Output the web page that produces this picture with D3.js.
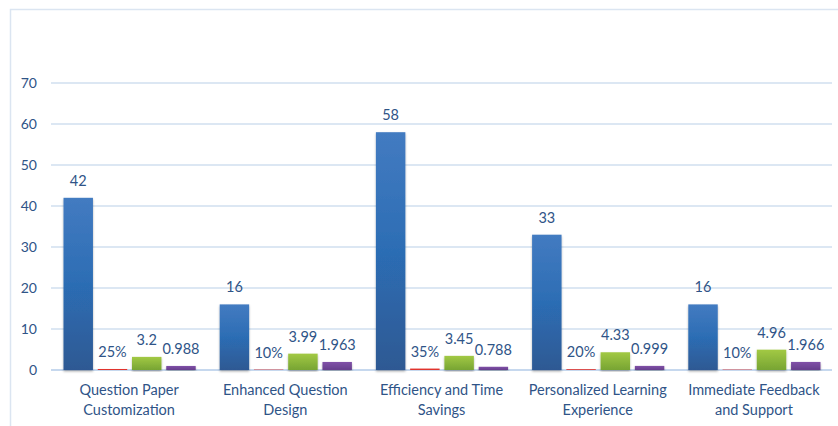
<!DOCTYPE html>
<html><head><meta charset="utf-8">
<script src="https://cdn.jsdelivr.net/npm/d3@7"></script>
<style>
html,body{margin:0;padding:0;background:#fff;}
svg{display:block;}
text{font-family:Lato,"Open Sans",sans-serif;}
</style></head>
<body>
<svg id="c" width="838" height="426"></svg>
<script>
const categories = [["Question Paper","Customization"],["Enhanced Question","Design"],["Efficiency and Time","Savings"],["Personalized Learning","Experience"],["Immediate Feedback","and Support"]];
const seriesA = [42, 16, 58, 33, 16];
const seriesB = [0.25, 0.10, 0.35, 0.20, 0.10];
const seriesBLabels = ["25%", "10%", "35%", "20%", "10%"];
const seriesC = [3.2, 3.99, 3.45, 4.33, 4.96];
const seriesD = [0.988, 1.963, 0.788, 0.999, 1.966];
const seriesDLabels = ["0.988", "1.963", "0.788", "0.999", "1.966"];
const yTicks = [0, 10, 20, 30, 40, 50, 60, 70];

const svg = d3.select("#c");
const W = 838, H = 426;
const m = {left: 51, right: 6, top: 83, bottom: 56};
const textColor = "#2f5487";

// border
svg.append("path").attr("d", `M10.5,${H} L10.5,9.5 L${W},9.5`).attr("fill","none").attr("stroke","#dbe5f1").attr("stroke-width",1.5);

const y = d3.scaleLinear().domain([0,70]).range([H - m.bottom, m.top]);
const names = categories.map(c => c.join(" "));
const x0 = d3.scaleBand().domain(names).range([m.left, W - m.right]).padding(0);
const keys = ["a","b","c","d"];
const x1 = d3.scaleBand().domain(keys).range([12.5, x0.bandwidth() - 11.5]).paddingInner(0.14);

const defs = svg.append("defs");
function grad(id, stops){
  const g = defs.append("linearGradient").attr("id", id).attr("x1",0).attr("y1",0).attr("x2",0).attr("y2",1);
  stops.forEach(s => g.append("stop").attr("offset", s[0]).attr("stop-color", s[1]));
}
grad("gA", [[0,"#437bc1"],[0.5,"#2c6db4"],[1,"#2f5993"]]);
grad("gC", [[0,"#a2c944"],[1,"#77a433"]]);
grad("gD", [[0,"#8051a8"],[1,"#663e8c"]]);
const f = defs.append("filter").attr("id","sh").attr("x","-20%").attr("y","-5%").attr("width","140%").attr("height","115%");
f.append("feDropShadow").attr("dx",0).attr("dy",1.5).attr("stdDeviation",1.2).attr("flood-color","#000").attr("flood-opacity",0.3);

// gridlines
const grid = svg.append("g");
grid.selectAll("line").data(yTicks).join("line")
  .attr("x1", m.left).attr("x2", W - m.right)
  .attr("y1", d => y(d)).attr("y2", d => y(d))
  .attr("stroke", d => d === 0 ? "#c6d8ee" : "#dce7f3").attr("stroke-width", 2);

// y axis labels
const yAxis = d3.axisLeft(y).tickValues(yTicks).tickSize(0).tickPadding(0);
const ya = svg.append("g").attr("transform", `translate(37,0)`).call(yAxis);
ya.select(".domain").remove();
ya.selectAll("text").attr("fill", textColor).style("font-size","14px").style("font-family","Lato,'Open Sans',sans-serif");

const data = names.map((n,i) => ({name:n, vals:[
  {k:"a", v:seriesA[i], lab:String(seriesA[i]), fill:"url(#gA)", sh:true},
  {k:"b", v:seriesB[i], lab:seriesBLabels[i], fill:"#e0332d", sh:false},
  {k:"c", v:seriesC[i], lab:String(seriesC[i]), fill:"url(#gC)", sh:true},
  {k:"d", v:seriesD[i], lab:seriesDLabels[i], fill:"url(#gD)", sh:true}
]}));

const groups = svg.append("g").selectAll("g").data(data).join("g")
  .attr("transform", d => `translate(${x0(d.name)},0)`);

groups.selectAll("rect").data(d => d.vals).join("rect")
  .attr("x", d => x1(d.k)).attr("width", x1.bandwidth())
  .attr("y", d => y(d.v)).attr("height", d => y(0) - y(d.v))
  .attr("fill", d => d.fill).attr("filter", d => d.sh ? "url(#sh)" : null);

groups.selectAll("text.v").data(d => d.vals).join("text").attr("class","v")
  .attr("x", d => x1(d.k) + x1.bandwidth()/2)
  .attr("y", d => y(d.v) - 12)
  .attr("text-anchor","middle").attr("fill", textColor).style("font-size","14.5px")
  .text(d => d.lab);

// category labels
const cat = svg.append("g").selectAll("text").data(categories).join("text")
  .attr("x", (d,i) => x0(names[i]) + x0.bandwidth()/2)
  .attr("y", 395)
  .attr("text-anchor","middle").attr("fill", textColor).style("font-size","14.5px");
cat.selectAll("tspan").data(d => d).join("tspan")
  .attr("x", function(){ return this.parentNode.getAttribute("x"); })
  .attr("dy", (d,i) => i === 0 ? 0 : 20)
  .text(d => d);
</script>
</body></html>
